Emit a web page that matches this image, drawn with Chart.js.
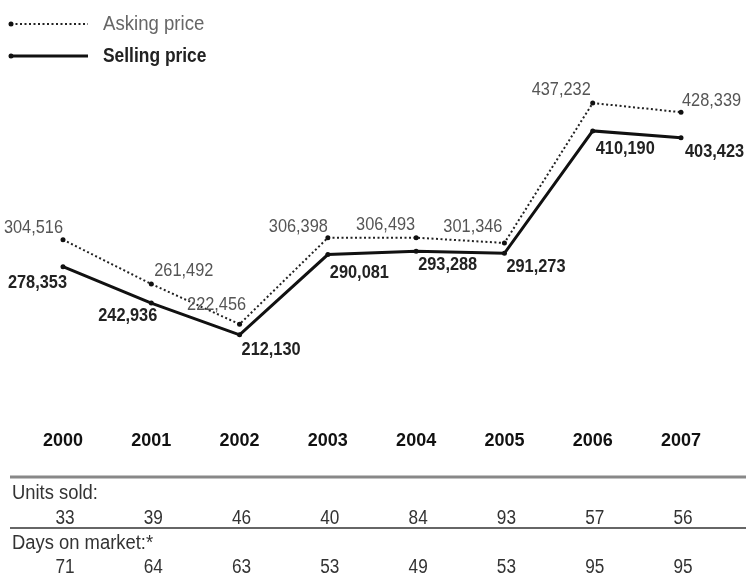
<!DOCTYPE html>
<html>
<head>
<meta charset="utf-8">
<script src="https://cdn.jsdelivr.net/npm/chart.js@4/dist/chart.umd.min.js"></script>
<style>
  html, body { margin: 0; padding: 0; background: #fff; }
  #wrap { position: relative; width: 746px; height: 582px; }
</style>
</head>
<body>
<div id="wrap"><canvas id="c"></canvas></div>
<script>
// ---- data ----
const years = ['2000', '2001', '2002', '2003', '2004', '2005', '2006', '2007'];
const askingPrice = [304516, 261492, 222456, 306398, 306493, 301346, 437232, 428339];
const sellingPrice = [278353, 242936, 212130, 290081, 293288, 291273, 410190, 403423];
const unitsSold = [33, 39, 46, 40, 84, 93, 57, 56];
const daysOnMarket = [71, 64, 63, 53, 49, 53, 95, 95];
const seriesNames = ['Asking price', 'Selling price'];
const rowNames = ['Units sold:', 'Days on market:*'];

// ---- styles / placement ----
const FONT = '"Liberation Sans", Arial, sans-serif';
// [align, dx, dy] for each value label
const askingPlace = [['right',0,-12],['left',3,-13],['center',-23,-19],['right',0,-11],['right',-1,-13],['right',-2,-16],['right',-2,-13],['left',1,-11]];
const sellingPlace = [['right',4,16],['right',6,13],['left',2,15],['left',2,18],['left',2,14],['left',2,13],['left',3,18],['left',4,14]];
const labelStyles = [
  { font: '19px ' + FONT, color: '#555', place: askingPlace },
  { font: 'bold 19px ' + FONT, color: '#222', place: sellingPlace }
];
const NARROW = 0.86;

const fmt = v => v.toLocaleString('en-US');

// draws text horizontally condensed (the reference uses a condensed face)
function narrowText(ctx, text, x, y, align, sx) {
  ctx.save();
  ctx.textAlign = align;
  ctx.textBaseline = 'middle';
  ctx.scale(sx, 1);
  ctx.fillText(text, x / sx, y);
  ctx.restore();
}

const valueLabels = {
  id: 'valueLabels',
  afterDatasetsDraw(chart) {
    const ctx = chart.ctx;
    chart.data.datasets.forEach((ds, i) => {
      const meta = chart.getDatasetMeta(i);
      const st = labelStyles[i];
      ctx.save();
      ctx.font = st.font;
      ctx.fillStyle = st.color;
      meta.data.forEach((pt, j) => {
        const [al, dx, dy] = st.place[j];
        narrowText(ctx, fmt(ds.data[j]), pt.x + dx, pt.y + dy, al, NARROW);
      });
      ctx.restore();
    });
  }
};

const legendAndTable = {
  id: 'legendAndTable',
  afterDraw(chart) {
    const ctx = chart.ctx;
    const xs = chart.scales.x;
    // legend
    const legY = [24, 56];
    chart.data.datasets.forEach((ds, i) => {
      ctx.save();
      ctx.strokeStyle = ds.borderColor;
      ctx.lineWidth = ds.borderWidth;
      ctx.setLineDash(ds.borderDash || []);
      ctx.beginPath();
      ctx.moveTo(11, legY[i]);
      ctx.lineTo(88, legY[i]);
      ctx.stroke();
      ctx.setLineDash([]);
      ctx.fillStyle = '#111';
      ctx.beginPath();
      ctx.arc(11, legY[i], 2.5, 0, Math.PI * 2);
      ctx.fill();
      ctx.font = (i === 1 ? 'bold ' : '') + '20px ' + FONT;
      ctx.fillStyle = i === 1 ? '#222' : '#666';
      narrowText(ctx, ds.label, 103, legY[i], 'left', i === 1 ? 0.87 : 0.93);
      ctx.restore();
    });
    // table
    ctx.save();
    ctx.strokeStyle = '#888';
    ctx.lineWidth = 3;
    ctx.beginPath(); ctx.moveTo(10, 477); ctx.lineTo(746, 477); ctx.stroke();
    ctx.strokeStyle = '#666';
    ctx.lineWidth = 2;
    ctx.beginPath(); ctx.moveTo(10, 528); ctx.lineTo(746, 528); ctx.stroke();
    ctx.font = '20px ' + FONT;
    ctx.fillStyle = '#333';
    narrowText(ctx, rowNames[0], 12, 493, 'left', 0.92);
    narrowText(ctx, rowNames[1], 12, 543, 'left', 0.92);
    unitsSold.forEach((v, j) => narrowText(ctx, String(v), xs.getPixelForValue(j) + 2, 518, 'center', 0.86));
    daysOnMarket.forEach((v, j) => narrowText(ctx, String(v), xs.getPixelForValue(j) + 2, 567, 'center', 0.86));
    ctx.restore();
  }
};

new Chart(document.getElementById('c'), {
  type: 'line',
  data: {
    labels: years,
    datasets: [
      {
        label: seriesNames[0],
        data: askingPrice,
        borderColor: '#222',
        borderWidth: 2,
        borderDash: [2, 2.5],
        pointRadius: 2.5,
        pointBackgroundColor: '#111',
        pointBorderWidth: 0,
        tension: 0,
        fill: false
      },
      {
        label: seriesNames[1],
        data: sellingPrice,
        borderColor: '#111',
        borderWidth: 3,
        pointRadius: 2.5,
        pointBackgroundColor: '#111',
        pointBorderWidth: 0,
        tension: 0,
        fill: false
      }
    ]
  },
  options: {
    responsive: true,
    maintainAspectRatio: false,
    animation: false,
    layout: { padding: { left: 63, right: 65, top: 59, bottom: 119 } },
    plugins: { legend: { display: false }, tooltip: { enabled: false } },
    scales: {
      x: {
        offset: false,
        grid: { display: false, drawTicks: false },
        border: { display: false },
        ticks: { font: { family: FONT, size: 18, weight: 'bold' }, color: '#111', padding: 11, maxRotation: 0, autoSkip: false }
      },
      y: {
        display: false,
        min: 130000,
        max: 480000
      }
    }
  },
  plugins: [valueLabels, legendAndTable]
});
</script>
</body>
</html>
